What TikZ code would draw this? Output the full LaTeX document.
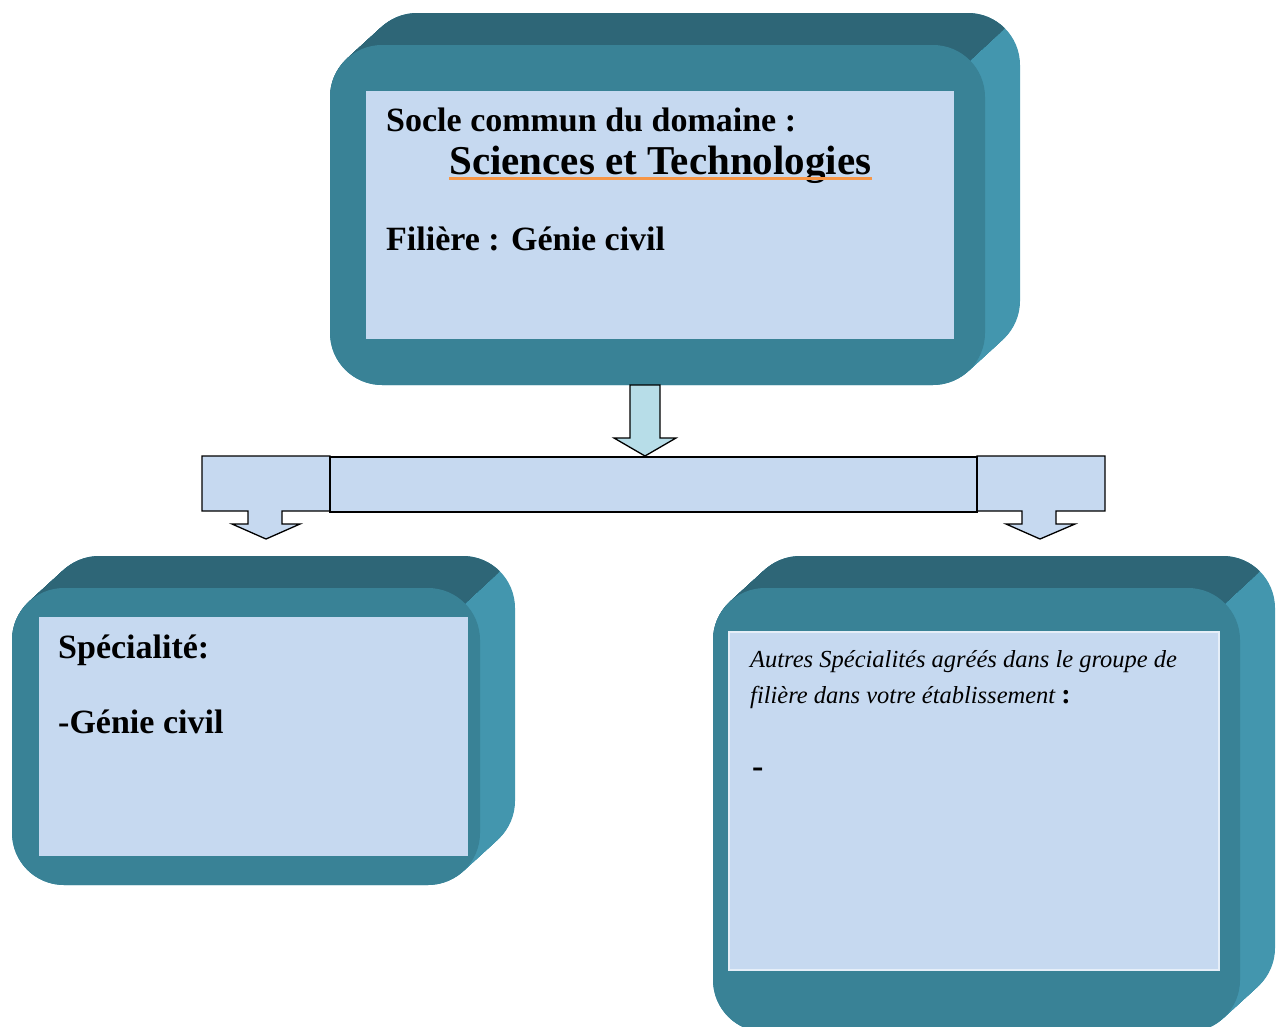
\documentclass[tikz,border=0pt]{standalone}
\usepackage{fontspec}
\setmainfont{Liberation Serif}
\usetikzlibrary{calc,positioning}
\definecolor{frontcol}{RGB}{57,130,150}
\definecolor{topcol}{RGB}{46,102,119}
\definecolor{sidecol}{RGB}{67,150,174}
\definecolor{panelcol}{RGB}{198,217,240}
\definecolor{arrowcol}{RGB}{183,221,232}
\definecolor{ulcol}{RGB}{247,150,70}
\tikzset{panel/.style={fill=panelcol, draw=none}, big/.style={inner sep=0, anchor=base west, font=\fontsize{34}{40}\selectfont\bfseries}, small/.style={inner sep=0, anchor=base west, font=\fontsize{24.5}{30}\selectfont\itshape}, callout/.style={draw=black, line width=1.3pt, line join=miter}}

% bevelled box: x1, y1, x2, y2 of the front face
\newcommand{\cubebox}[4]{%
  \foreach \s in {0,...,35} \fill[sidecol, rounded corners=52] (#1+\s,#2-\s*32/35) rectangle (#3+\s,#4-\s*32/35);
  \begin{scope}
    \clip (#3+90,#2-81) -- (#3-190,#2+175) -- (#1-60,#2+175) -- (#1-60,#2-81) -- cycle;
    \foreach \s in {0,...,35} \fill[topcol, rounded corners=52] (#1+\s,#2-\s*32/35) rectangle (#3+\s,#4-\s*32/35);
  \end{scope}
  \fill[frontcol, rounded corners=52] (#1,#2) rectangle (#3,#4);
}

\begin{document}
\begin{tikzpicture}[x=1pt, y=-1pt]
    \useasboundingbox (0,0) rectangle (1277,1026);
    % the three boxes
    \cubebox{330}{45}{985}{385}
    \cubebox{12}{588}{480}{885}
    \cubebox{713}{588}{1240}{1032}
    \path[panel] (366,91) rectangle (954,339);
    \path[panel] (39,617) rectangle (468,856);
    \path[panel, draw=white!55!panelcol, line width=1.5pt] (729,632) rectangle (1219,970);
    % texts
    \node[big] (socle) at (386,131) {Socle commun du domaine :};
    \node[big, font=\fontsize{41}{46}\selectfont\bfseries] (st) at (449,174) {Sciences et Technologies};
    \draw[ulcol, line width=3pt] ([yshift=-4pt]st.base west) -- ([yshift=-4pt]st.base east);
    \node[big] (filiere) at (386,250) {Filière : Génie civil};
    \node[big] (spec) at (58,658) {Spécialité:};
    \node[big] (genie) at (58,733) {-Génie civil};
    \node[small] (autres) at (750,667) {Autres Spécialités agréés dans le groupe de};
    \node[small] (etab) at (750,703) {filière dans votre établissement {\upshape\bfseries\fontsize{28}{30}\selectfont :}};
    \node[big] (dash) at (752,777) {-};
    % arrows
    \coordinate (down) at (645,385);
    \draw[callout, fill=arrowcol] (down) ++(-15,0) -- ++(30,0) -- ++(0,53) -- ++(16,0) -- (645,456) -- ++(-31,-18) -- ++(16,0) -- cycle;
    \draw[callout, fill=panelcol] (202,456) -- (330,456) -- (330,511) -- (282,511) -- (282,524) -- (300,524) -- (266,539) -- (232,524) -- (248,524) -- (248,511) -- (202,511) -- cycle;
    \draw[callout, fill=panelcol] (977,456) -- (1105,456) -- (1105,511) -- (1056,511) -- (1056,524) -- (1075,524) -- (1040,539) -- (1006,524) -- (1022,524) -- (1022,511) -- (977,511) -- cycle;
    \node[callout, fill=panelcol, minimum width=647, minimum height=55, inner sep=0] (bar) at (653.5,484.5) {};
\end{tikzpicture}
\end{document}
